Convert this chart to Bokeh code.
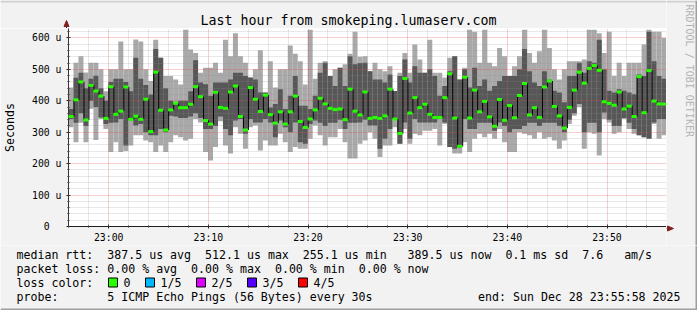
import math
from bokeh.plotting import figure
from bokeh.layouts import column, row
from bokeh.models import FixedTicker, Range1d, ColumnDataSource
from bokeh.core.properties import value
from bokeh.embed import file_html
from bokeh.resources import INLINE

# ---------------- data (round-trip times in microseconds, one sample every 30 s) ----
rtt_max = [442, 521, 542, 490, 521, 521, 500, 430, 500, 500, 589, 500, 500, 595, 589, 500,
           463, 594, 537, 479, 479, 468, 452, 626, 563, 552, 489, 505, 505, 521, 489, 594,
           542, 615, 542, 521, 474, 500, 561, 426, 526, 442, 500, 500, 576, 550, 526, 452,
           626, 470, 521, 526, 479, 500, 505, 516, 550, 620, 540, 542, 494, 521, 500, 494,
           510, 431, 489, 552, 489, 579, 531, 489, 594, 489, 489, 474, 537, 542, 468, 505,
           626, 620, 521, 626, 521, 510, 568, 542, 479, 510, 542, 626, 552, 521, 558, 626,
           568, 500, 468, 500, 526, 526, 526, 531, 626, 626, 615, 552, 620, 479, 521, 479,
           521, 521, 521, 579, 626, 620, 620, 600]
rtt_upper = [374, 473, 489, 440, 470, 480, 440, 400, 460, 470, 470, 460, 430, 537, 470, 450,
             420, 565, 537, 440, 400, 395, 400, 400, 430, 529, 458, 453, 416, 458, 458, 458,
             468, 489, 489, 479, 474, 468, 426, 426, 379, 390, 437, 374, 416, 479, 384, 384,
             374, 416, 489, 521, 479, 447, 505, 447, 542, 516, 520, 521, 494, 468, 468, 458,
             484, 431, 479, 531, 458, 510, 489, 489, 500, 479, 416, 447, 494, 542, 468, 500,
             442, 505, 447, 468, 432, 447, 463, 479, 479, 479, 500, 565, 494, 458, 447, 494,
             468, 432, 426, 395, 479, 479, 521, 489, 526, 521, 594, 500, 432, 426, 437, 432,
             426, 421, 484, 479, 620, 526, 479, 470]
rtt_median = [350, 403, 460, 339, 449, 431, 415, 344, 445, 357, 367, 444, 341, 351, 341, 405,
              302, 491, 370, 307, 371, 392, 378, 378, 389, 445, 413, 337, 326, 427, 379, 376,
              428, 447, 350, 307, 442, 405, 366, 418, 356, 329, 365, 326, 365, 415, 334, 315,
              342, 371, 408, 390, 376, 372, 374, 340, 437, 367, 355, 428, 344, 347, 344, 352,
              437, 342, 296, 471, 361, 410, 378, 389, 357, 347, 347, 410, 486, 345, 255, 475,
              345, 434, 365, 398, 349, 319, 404, 338, 385, 346, 417, 455, 355, 378, 347, 444,
              463, 382, 352, 313, 379, 434, 491, 456, 503, 512, 497, 397, 392, 386, 428, 374,
              383, 350, 477, 362, 496, 399, 390, 389.5]
rtt_lower = [342, 330, 360, 320, 400, 380, 347, 326, 330, 331, 342, 258, 337, 321, 326, 300,
             290, 290, 310, 300, 352, 350, 345, 345, 350, 360, 345, 310, 310, 320, 350, 310,
             290, 337, 342, 295, 342, 331, 331, 342, 331, 284, 337, 316, 300, 331, 268, 263,
             326, 337, 330, 320, 330, 330, 340, 310, 330, 330, 331, 340, 321, 321, 247, 279,
             310, 340, 263, 331, 279, 342, 331, 331, 331, 331, 342, 331, 253, 247, 250, 342,
             310, 310, 330, 330, 330, 305, 331, 320, 300, 310, 310, 320, 330, 330, 320, 330,
             330, 330, 320, 300, 340, 360, 390, 300, 330, 330, 300, 363, 340, 320, 320, 345,
             330, 310, 290, 284, 279, 331, 342, 342]
rtt_min = [316, 268, 330, 268, 375, 275, 342, 310, 237, 268, 237, 240, 258, 290, 290, 274,
           268, 237, 258, 237, 268, 290, 284, 274, 279, 342, 331, 237, 210, 253, 335, 258,
           232, 316, 295, 247, 316, 321, 242, 274, 258, 258, 295, 268, 237, 253, 247, 247,
           279, 321, 290, 258, 284, 284, 310, 268, 216, 216, 263, 274, 300, 279, 221, 258,
           258, 316, 263, 310, 263, 295, 290, 305, 305, 310, 258, 326, 253, 232, 232, 268,
           237, 279, 295, 284, 295, 279, 310, 268, 237, 237, 300, 295, 290, 279, 300, 279,
           284, 274, 247, 274, 326, 352, 380, 247, 300, 295, 226, 342, 331, 295, 300, 342,
           310, 295, 290, 284, 279, 326, 279, 290]

STEP_S = 30
GRAPH_START = "22:55:58"
GRAPH_END = "23:55:58"
time_labels = ["23:00", "23:10", "23:20", "23:30", "23:40", "23:50"]
y_tick_values = [0, 100, 200, 300, 400, 500, 600]
y_tick_labels = ["0\u00a0\u00a0", "100 u", "200 u", "300 u", "400 u", "500 u", "600 u"]

title_text = "Last hour from smokeping.lumaserv.com"
y_title = "Seconds"
watermark = "RRDTOOL / TOBI OETIKER"
median_stats = ["387.5 us avg", "512.1 us max", "255.1 us min", "389.5 us now",
                "0.1 ms sd", "7.6", "am/s"]
loss_stats = ["0.00 % avg", "0.00 % max", "0.00 % min", "0.00 % now"]
loss_names = ["0", "1/5", "2/5", "3/5", "4/5"]
loss_colors = ["#26ff00", "#00b8ff", "#dd00ff", "#5500ff", "#ff0000"]
probe_text = "5 ICMP Echo Pings (56 Bytes) every 30s"
end_text = "end: Sun Dec 28 23:55:58 2025"

# ---------------- geometry / style ---------------------------------------------
W, H = 697, 310
FL, FR, FT, FB = 66, 666, 28, 228          # plot frame in canvas pixels
MAIN_B = 245                               # bottom of main strip (legend below)
MONO = "DejaVu Sans Mono"
LEG_PX = 11.6
CW = LEG_PX * 0.6021                        # monospace advance
BACK = "#F2F2F2"
AXIS = "#1F1F1F"
ARROW = "#801F1F"
SHADE_A, SHADE_B = "#CFCFCF", "#9E9E9E"


def secs(s):
    parts = [int(v) for v in s.split(":")]
    while len(parts) < 3:
        parts.append(0)
    return parts[0] * 3600 + parts[1] * 60 + parts[2]


def strip(x0, x1, y0, y1):
    """A figure whose frame covers its whole area, in canvas-pixel coordinates."""
    f = figure(width=x1 - x0, height=y1 - y0, output_backend="svg", toolbar_location=None,
               x_range=Range1d(x0, x1), y_range=Range1d(y1, y0),
               x_axis_type=None, y_axis_type=None, title=None,
               min_border_left=0, min_border_right=0, min_border_top=0, min_border_bottom=0)
    f.frame_align = False
    f.grid.visible = False
    f.outline_line_color = None
    f.background_fill_color = BACK
    f.border_fill_color = BACK
    return f


t0 = secs(GRAPH_START)
span = secs(GRAPH_END) - t0

n = len(rtt_median)
left = [i * STEP_S for i in range(n)]
right = [(i + 1) * STEP_S for i in range(n)]
src = ColumnDataSource(dict(left=left, right=right, mx=rtt_max, up=rtt_upper,
                            med=rtt_median, lo=rtt_lower, mn=rtt_min))

# ---------------- main chart ---------------------------------------------------
p = figure(width=FR, height=MAIN_B - FT, output_backend="svg", toolbar_location=None,
           x_range=Range1d(0, span), y_range=Range1d(0, 630), title=None,
           min_border_left=FL, min_border_right=0,
           min_border_top=0, min_border_bottom=MAIN_B - FB)
p.frame_align = False
p.border_fill_color = BACK
p.background_fill_color = "#FFFFFF"
p.outline_line_color = None

# smoke
p.quad(left="left", right="right", bottom="mn", top="mx", source=src,
       fill_color="#A9A9A9", line_color=None)
p.quad(left="left", right="right", bottom="lo", top="up", source=src,
       fill_color="#575757", line_color=None)

# median: black connectors + green steps
px_s = span / (FR - FL)
vx = [right[i] + 0.5 * px_s for i in range(n - 1)]
r1 = p.segment(x0=vx, y0=rtt_median[:-1], x1=vx, y1=rtt_median[1:],
               line_color="#000000", line_width=1)
r2 = p.segment(x0="left", y0="med", x1="right", y1="med", source=src,
               line_color="#26ff00", line_width=3)
r1.level = "annotation"
r2.level = "annotation"

# ticks / grid
x_major = [secs(t) - t0 for t in time_labels]
x_minor = [m for m in range(secs("22:56") - t0, span + 1, 120) if m not in x_major]
xt = FixedTicker(ticks=x_major, minor_ticks=x_minor)
y_minor = [v for v in range(20, 630, 20) if v % 100 != 0]
yt = FixedTicker(ticks=y_tick_values, minor_ticks=y_minor)

for ax, tk, labels, vals in ((p.xaxis[0], xt, time_labels, x_major),
                             (p.yaxis[0], yt, y_tick_labels, y_tick_values)):
    ax.ticker = tk
    ax.major_label_overrides = {v: l for v, l in zip(vals, labels)}
    ax.axis_line_color = AXIS
    ax.major_tick_line_color = AXIS
    ax.minor_tick_line_color = AXIS
    ax.major_tick_in = 2
    ax.major_tick_out = 2
    ax.minor_tick_in = 1
    ax.minor_tick_out = 1
    ax.major_label_text_font = MONO
    ax.major_label_text_font_size = "9.8px"
    ax.major_label_text_color = "#000000"
p.xaxis.major_label_standoff = 3
p.yaxis.major_label_standoff = 5
p.yaxis.axis_label = y_title
p.yaxis.axis_label_text_font = MONO
p.yaxis.axis_label_text_font_size = f"{LEG_PX}px"
p.yaxis.axis_label_text_font_style = "normal"
p.yaxis.axis_label_text_color = "#000000"
p.yaxis.axis_label_standoff = 12

for g, tk in ((p.xgrid[0], xt), (p.ygrid[0], yt)):
    g.ticker = tk
    g.grid_line_color = "#DE4F4F"
    g.grid_line_alpha = 0.55
    g.grid_line_dash = "1 1"
    g.minor_grid_line_color = "#8F8F8F"
    g.minor_grid_line_alpha = 0.4
    g.minor_grid_line_dash = "1 1"
    g.level = "guide"

# ---------------- top strip: title + y-axis arrow ------------------------------
top = strip(0, FR, 0, FT)
top.text(x=[348], y=[20], text=[title_text], text_font=value(MONO),
         text_font_size=value("13.3px"), text_align="center", text_baseline="middle",
         text_color="#000000")
top.segment(x0=[FL], y0=[FT], x1=[FL], y1=[FT - 5], line_color=AXIS, line_width=1)
top.patch(x=[FL - 2.5, FL, FL + 2.5], y=[FT - 2, FT - 8, FT - 2],
          fill_color=ARROW, line_color=ARROW, line_width=1)
top.quad(left=[0], right=[FR], top=[0], bottom=[2], fill_color=SHADE_A, line_color=None)

# ---------------- right strip: x-axis arrow + watermark ------------------------
rs = strip(FR, W, 0, MAIN_B)
rs.segment(x0=[FR], y0=[FB], x1=[FR + 2], y1=[FB], line_color=AXIS, line_width=1)
rs.patch(x=[FR + 1, FR + 7, FR + 1], y=[FB - 2.5, FB, FB + 2.5],
         fill_color=ARROW, line_color=ARROW, line_width=1)
rs.text(x=[688.5], y=[4], text=[watermark], angle=-math.pi / 2, text_font=value(MONO),
        text_font_size=value("10px"), text_align="left", text_baseline="middle",
        text_color="#B4B4B4")
rs.quad(left=[FR], right=[W], top=[0], bottom=[2], fill_color=SHADE_A, line_color=None)
rs.quad(left=[W - 2], right=[W], top=[0], bottom=[MAIN_B], fill_color=SHADE_B,
        line_color=None)

# ---------------- legend strip --------------------------------------------------
leg = strip(0, W, MAIN_B, H)

tx, ty, tt = [], [], []


def text_row(Y, col_texts):
    for col, txt in col_texts:
        tx.append(16 + col * CW)
        ty.append(Y)
        tt.append(txt)


text_row(254, [(0, "median rtt:"), (13, median_stats[0]), (27, median_stats[1]),
               (41, median_stats[2]), (56, median_stats[3]), (70, median_stats[4]),
               (81, median_stats[5]), (87, median_stats[6])])
text_row(268, [(0, "packet loss:"), (13, loss_stats[0]), (25, loss_stats[1]),
               (37, loss_stats[2]), (49, loss_stats[3])])
text_row(282, [(0, "loss color:")])
sw_x = [108, 145, 196, 247, 298]
for sx, name in zip(sw_x, loss_names):
    tx.append(sx + 15)
    ty.append(282)
    tt.append(name)
text_row(296, [(0, "probe:"), (13, probe_text)])

leg.text(x=tx, y=ty, text=tt, text_font=value(MONO), text_font_size=value(f"{LEG_PX}px"),
         text_align="left", text_baseline="middle", text_color="#000000")
leg.text(x=[680], y=[296], text=[end_text], text_font=value(MONO),
         text_font_size=value(f"{LEG_PX}px"), text_align="right",
         text_baseline="middle", text_color="#000000")
leg.quad(left=sw_x, right=[s + 9 for s in sw_x], top=[277.5] * 5, bottom=[286.5] * 5,
         fill_color=loss_colors, line_color="#000000", line_width=1)
leg.quad(left=[0], right=[W], top=[H - 2], bottom=[H], fill_color=SHADE_B, line_color=None)
leg.quad(left=[W - 2], right=[W], top=[MAIN_B], bottom=[H], fill_color=SHADE_B,
         line_color=None)

layout = column(row(column(top, p, spacing=0), rs, spacing=0), leg, spacing=0)

with open("out.html", "w", encoding="utf-8") as f:
    f.write(file_html(layout, INLINE))
